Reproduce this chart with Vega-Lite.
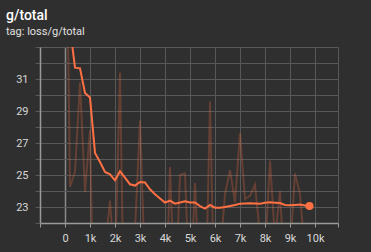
{
  "$schema": "https://vega.github.io/schema/vega-lite/v6.json",
  "width": 298,
  "height": 176,
  "autosize": "none",
  "padding": {"left": 40, "top": 47, "right": 33, "bottom": 29},
  "background": "#2f2f2f",
  "title": {
    "text": "g/total",
    "subtitle": "tag: loss/g/total",
    "anchor": "start",
    "frame": "group",
    "dx": -34,
    "offset": 10,
    "font": "Roboto",
    "fontSize": 14,
    "fontWeight": 500,
    "color": "#ffffff",
    "subtitleFont": "Roboto",
    "subtitleFontSize": 11,
    "subtitleColor": "#e0e0e0",
    "subtitlePadding": 3
  },
  "config": {
    "view": {"stroke": null},
    "axis": {
      "labelFont": "Roboto",
      "labelFontSize": 11,
      "labelColor": "#d8d8d8",
      "gridColor": "#585858",
      "gridWidth": 1,
      "tickColor": "#666666",
      "domainColor": "#9a9a9a",
      "domainWidth": 1.5
    }
  },
  "datasets": {
    "scalars": [
      {"step": 0, "raw": 48.5, "smooth": 48.5},
      {"step": 200, "raw": 24.25, "smooth": 34.2},
      {"step": 400, "raw": 25.2, "smooth": 31.71},
      {"step": 600, "raw": 30.8, "smooth": 31.67},
      {"step": 800, "raw": 23.94, "smooth": 30.13},
      {"step": 1000, "raw": 27.8, "smooth": 29.84},
      {"step": 1200, "raw": 12, "smooth": 26.38},
      {"step": 1400, "raw": 16, "smooth": 25.81},
      {"step": 1600, "raw": 20.4, "smooth": 25.19},
      {"step": 1800, "raw": 23.4, "smooth": 25.04},
      {"step": 2000, "raw": 19, "smooth": 24.67},
      {"step": 2200, "raw": 31.4, "smooth": 25.23},
      {"step": 2400, "raw": 12, "smooth": 24.84},
      {"step": 2600, "raw": 15, "smooth": 24.42},
      {"step": 2800, "raw": 21.5, "smooth": 24.34},
      {"step": 3000, "raw": 28.4, "smooth": 24.56},
      {"step": 3200, "raw": 19, "smooth": 24.53},
      {"step": 3400, "raw": 16, "smooth": 24.11},
      {"step": 3600, "raw": 15, "smooth": 23.79},
      {"step": 3800, "raw": 16, "smooth": 23.53},
      {"step": 4000, "raw": 15, "smooth": 23.28},
      {"step": 4200, "raw": 25.5, "smooth": 23.4},
      {"step": 4400, "raw": 17, "smooth": 23.21},
      {"step": 4600, "raw": 25.0, "smooth": 23.28},
      {"step": 4800, "raw": 25.1, "smooth": 23.36},
      {"step": 5000, "raw": 17, "smooth": 23.28},
      {"step": 5200, "raw": 24.5, "smooth": 23.28},
      {"step": 5400, "raw": 17, "smooth": 23.06},
      {"step": 5600, "raw": 15, "smooth": 22.9},
      {"step": 5800, "raw": 29.6, "smooth": 23.13},
      {"step": 6000, "raw": 15, "smooth": 22.96},
      {"step": 6200, "raw": 20, "smooth": 22.96},
      {"step": 6400, "raw": 23.8, "smooth": 23.0},
      {"step": 6600, "raw": 25.3, "smooth": 23.06},
      {"step": 6800, "raw": 23.3, "smooth": 23.13},
      {"step": 7000, "raw": 27.6, "smooth": 23.21},
      {"step": 7200, "raw": 23.5, "smooth": 23.22},
      {"step": 7400, "raw": 23.7, "smooth": 23.23},
      {"step": 7600, "raw": 24.4, "smooth": 23.22},
      {"step": 7800, "raw": 21.2, "smooth": 23.21},
      {"step": 8000, "raw": 20, "smooth": 23.26},
      {"step": 8200, "raw": 25.9, "smooth": 23.29},
      {"step": 8400, "raw": 21, "smooth": 23.27},
      {"step": 8600, "raw": 24.0, "smooth": 23.25},
      {"step": 8800, "raw": 18, "smooth": 23.13},
      {"step": 9000, "raw": 20, "smooth": 23.11},
      {"step": 9200, "raw": 25.1, "smooth": 23.13},
      {"step": 9400, "raw": 23.8, "smooth": 23.15},
      {"step": 9600, "raw": 20, "smooth": 23.1},
      {"step": 9780, "raw": 21.5, "smooth": 23.06}
    ]
  },
  "data": {"name": "scalars"},
  "encoding": {
    "x": {
      "field": "step",
      "type": "quantitative",
      "scale": {"domain": [-1000, 10920], "nice": false, "zero": false},
      "axis": {
        "title": null,
        "values": [-1000, 0, 1000, 2000, 3000, 4000, 5000, 6000, 7000, 8000, 9000, 10000, 10920],
        "labelExpr": "datum.value < 0 || datum.value > 10000 ? '' : (datum.value == 0 ? '0' : format(datum.value / 1000, 'd') + 'k')",
        "tickSize": 4,
        "labelPadding": 5,
        "tickColor": "#9a9a9a",
        "gridColor": {"condition": {"test": "datum.value === 0", "value": "#8a8a8a"}, "value": "#585858"},
        "gridWidth": {"condition": {"test": "datum.value === 0", "value": 1.5}, "value": 1}
      }
    }
  },
  "layer": [
    {
      "mark": {"type": "line", "clip": true, "color": "#ff7043", "opacity": 0.25, "strokeWidth": 2},
      "encoding": {
        "y": {
          "field": "raw",
          "type": "quantitative",
          "scale": {"domain": [22, 33], "nice": false, "zero": false},
          "axis": {
            "title": null,
            "values": [22, 23, 24, 25, 26, 27, 28, 29, 30, 31, 32, 33],
            "labelExpr": "datum.value % 2 == 1 && datum.value < 32 ? datum.label : ''",
            "tickSize": 5,
            "labelPadding": 7,
            "tickColor": "#585858"
          }
        }
      }
    },
    {
      "mark": {"type": "line", "clip": true, "color": "#ff7043", "strokeWidth": 2},
      "encoding": {
        "y": {
          "field": "smooth",
          "type": "quantitative",
          "scale": {"domain": [22, 33], "nice": false, "zero": false},
          "axis": {
            "title": null,
            "values": [22, 23, 24, 25, 26, 27, 28, 29, 30, 31, 32, 33],
            "labelExpr": "datum.value % 2 == 1 && datum.value < 32 ? datum.label : ''",
            "tickSize": 5,
            "labelPadding": 7,
            "tickColor": "#585858"
          }
        }
      }
    },
    {
      "transform": [{"filter": "datum.step == 9780"}],
      "mark": {"type": "circle", "clip": true, "color": "#ff7043", "opacity": 1, "size": 64},
      "encoding": {
        "y": {
          "field": "smooth",
          "type": "quantitative",
          "scale": {"domain": [22, 33], "nice": false, "zero": false},
          "axis": {
            "title": null,
            "values": [22, 23, 24, 25, 26, 27, 28, 29, 30, 31, 32, 33],
            "labelExpr": "datum.value % 2 == 1 && datum.value < 32 ? datum.label : ''",
            "tickSize": 5,
            "labelPadding": 7,
            "tickColor": "#585858"
          }
        }
      }
    }
  ]
}
